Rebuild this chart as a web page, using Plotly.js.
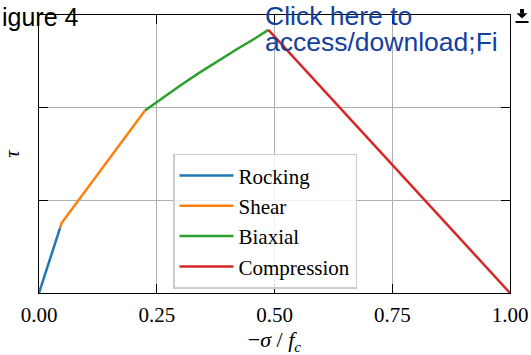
<!DOCTYPE html>
<html>
<head>
<meta charset="utf-8">
<script src="https://cdn.plot.ly/plotly-3.0.1.min.js"></script>
<style>html,body{margin:0;padding:0;background:#fff;}#chart{width:531px;height:355px;}</style>
</head>
<body>
<div id="chart"></div>
<script>
// Data
const seriesNames = ["Rocking", "Shear", "Biaxial", "Compression"];
const rockingX = [0, 0.0446];
const rockingY = [0, 0.70];
const shearX = [0.0446, 0.048, 0.225];
const shearY = [0.70, 0.755, 1.97];
const biaxialX = [0.225, 0.26, 0.30, 0.34, 0.38, 0.42, 0.46, 0.487];
const biaxialY = [1.97, 2.10, 2.24, 2.375, 2.505, 2.63, 2.752, 2.84];
const compressionX = [0.487, 1.0];
const compressionY = [2.84, 0];
const xTickVals = [0, 0.25, 0.5, 0.75, 1.0];
const xTickText = ["0.00", "0.25", "0.50", "0.75", "1.00"];
const yTickVals = [0, 1, 2, 3];

const colors = ["#1f77b4", "#ff7f0e", "#2ca02c", "#d62728"];
const xs = [rockingX, shearX, biaxialX, compressionX];
const ys = [rockingY, shearY, biaxialY, compressionY];

const traces = seriesNames.map((n, i) => ({
  x: xs[i], y: ys[i], name: n, type: "scatter", mode: "lines",
  line: {color: colors[i], width: 2.5}
}));

// pixel -> paper helpers for decorative overlay
const L = 39, R = 510, T = 15, B = 293.3;
const px = v => (v - L) / (R - L);
const py = v => (B - v) / (B - T);

const serif = "Liberation Serif, Times New Roman, serif";
const sans = "Liberation Sans, Arial, sans-serif";

const layout = {
  width: 531, height: 355,
  margin: {l: L, r: 531 - R, t: T, b: 355 - B, pad: 0},
  paper_bgcolor: "#fff", plot_bgcolor: "#fff",
  showlegend: true,
  font: {family: serif, size: 21, color: "#000"},
  xaxis: {
    range: [0, 1], tickvals: xTickVals, ticktext: xTickText,
    ticks: "inside", ticklen: 9, tickwidth: 1, tickcolor: "#000",
    showline: true, linecolor: "#000", linewidth: 1.2, mirror: "ticks",
    showgrid: true, gridcolor: "#b0b0b0", gridwidth: 1, zeroline: false,
    tickfont: {family: serif, size: 21}, ticklabelstandoff: 3,
    title: {text: "−<i>σ</i> / <i>f</i><sub><i>c</i></sub>", font: {family: serif, size: 22}, standoff: 6}
  },
  yaxis: {
    range: [0, 3], tickvals: yTickVals, showticklabels: false,
    ticks: "inside", ticklen: 9, tickwidth: 1, tickcolor: "#000",
    showline: true, linecolor: "#000", linewidth: 1.2, mirror: "ticks",
    showgrid: true, gridcolor: "#b0b0b0", gridwidth: 1, zeroline: false,
    title: {text: "<i>τ</i>", font: {family: serif, size: 21}, standoff: 14}
  },
  legend: {
    x: px(173), y: py(154), xanchor: "left", yanchor: "top",
    bgcolor: "rgba(255,255,255,0.8)", bordercolor: "#cccccc", borderwidth: 1.5,
    font: {family: serif, size: 21}, itemwidth: 54, tracegroupgap: 0
  },
  annotations: [
    {xref: "paper", yref: "paper", x: px(0), y: py(1), xanchor: "left", yanchor: "top",
     text: "igure 4", showarrow: false, font: {family: sans, size: 25, color: "#000"}},
    {xref: "paper", yref: "paper", x: px(263), y: py(-1), xanchor: "left", yanchor: "top",
     text: "Click here to", showarrow: false, font: {family: sans, size: 26.5, color: "#13409e"}},
    {xref: "paper", yref: "paper", x: px(263), y: py(25), xanchor: "left", yanchor: "top",
     text: "access/download;Fi", showarrow: false, font: {family: sans, size: 26.5, color: "#13409e"}}
  ],
  shapes: [
    {type: "rect", xref: "paper", yref: "paper", x0: px(520), x1: px(524), y0: py(9), y1: py(13.5),
     fillcolor: "#000", line: {width: 0}},
    {type: "path", xref: "paper", yref: "paper",
     path: `M ${px(516.5)},${py(13.3)} L ${px(527.5)},${py(13.3)} L ${px(522)},${py(18.5)} Z`,
     fillcolor: "#000", line: {width: 0}},
    {type: "rect", xref: "paper", yref: "paper", x0: px(515.5), x1: px(528.5), y0: py(21), y1: py(23),
     fillcolor: "#000", line: {width: 0}}
  ]
};

Plotly.newPlot("chart", traces, layout, {displayModeBar: false, staticPlot: true});
</script>
</body>
</html>
